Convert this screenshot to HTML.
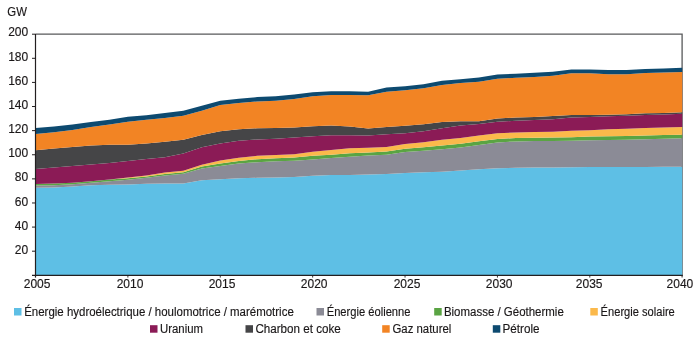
<!DOCTYPE html>
<html><head><meta charset="utf-8"><style>
html,body{margin:0;padding:0;background:#fff;}
body{width:696px;height:348px;overflow:hidden;}
svg{display:block;will-change:transform;}
text{font-family:"Liberation Sans",sans-serif;font-size:12px;fill:#1a1718;stroke:#1a1718;stroke-width:0.15px;}
</style></head><body>
<svg width="696" height="348" viewBox="0 0 696 348">
<path d="M35.5 34.2H682.1V277.5" fill="none" stroke="#58595b" stroke-width="1.3"/>
<polygon fill="#5ebfe5" points="35.50,187.70 53.98,187.40 72.45,186.40 90.93,185.30 109.41,184.80 127.89,184.40 146.36,183.70 164.84,183.50 183.32,183.40 201.79,180.30 220.27,179.20 238.75,178.30 257.23,177.80 275.70,177.50 294.18,177.00 312.66,175.80 331.13,175.00 349.61,175.00 368.09,174.50 386.57,174.10 405.04,173.00 423.52,172.30 442.00,171.70 460.47,170.50 478.95,169.20 497.43,168.30 515.91,167.80 534.38,167.50 552.86,167.50 571.34,167.20 589.81,167.00 608.29,167.00 626.77,167.00 645.25,166.90 663.72,166.80 682.20,166.70 682.20,275.00 663.72,275.00 645.25,275.00 626.77,275.00 608.29,275.00 589.81,275.00 571.34,275.00 552.86,275.00 534.38,275.00 515.91,275.00 497.43,275.00 478.95,275.00 460.47,275.00 442.00,275.00 423.52,275.00 405.04,275.00 386.57,275.00 368.09,275.00 349.61,275.00 331.13,275.00 312.66,275.00 294.18,275.00 275.70,275.00 257.23,275.00 238.75,275.00 220.27,275.00 201.79,275.00 183.32,275.00 164.84,275.00 146.36,275.00 127.89,275.00 109.41,275.00 90.93,275.00 72.45,275.00 53.98,275.00 35.50,275.00"/>
<polygon fill="#8b8b96" points="35.50,185.60 53.98,185.30 72.45,184.20 90.93,182.80 109.41,181.20 127.89,179.70 146.36,177.70 164.84,175.60 183.32,173.70 201.79,168.50 220.27,165.90 238.75,163.50 257.23,162.20 275.70,161.30 294.18,160.80 312.66,159.50 331.13,158.00 349.61,156.70 368.09,155.50 386.57,154.70 405.04,152.00 423.52,150.80 442.00,149.20 460.47,147.50 478.95,145.10 497.43,142.40 515.91,141.40 534.38,141.00 552.86,140.90 571.34,140.70 589.81,140.20 608.29,140.00 626.77,139.70 645.25,139.30 663.72,138.80 682.20,138.30 682.20,166.70 663.72,166.80 645.25,166.90 626.77,167.00 608.29,167.00 589.81,167.00 571.34,167.20 552.86,167.50 534.38,167.50 515.91,167.80 497.43,168.30 478.95,169.20 460.47,170.50 442.00,171.70 423.52,172.30 405.04,173.00 386.57,174.10 368.09,174.50 349.61,175.00 331.13,175.00 312.66,175.80 294.18,177.00 275.70,177.50 257.23,177.80 238.75,178.30 220.27,179.20 201.79,180.30 183.32,183.40 164.84,183.50 146.36,183.70 127.89,184.40 109.41,184.80 90.93,185.30 72.45,186.40 53.98,187.40 35.50,187.70"/>
<polygon fill="#5aa443" points="35.50,184.00 53.98,183.60 72.45,182.70 90.93,181.20 109.41,179.50 127.89,178.20 146.36,176.40 164.84,174.10 183.32,172.20 201.79,166.60 220.27,163.60 238.75,160.90 257.23,159.20 275.70,158.30 294.18,157.50 312.66,155.80 331.13,154.70 349.61,153.30 368.09,152.60 386.57,151.60 405.04,148.80 423.52,147.30 442.00,145.50 460.47,143.80 478.95,141.20 497.43,138.90 515.91,138.10 534.38,137.70 552.86,137.40 571.34,137.30 589.81,136.60 608.29,136.30 626.77,136.00 645.25,135.50 663.72,135.00 682.20,134.70 682.20,138.30 663.72,138.80 645.25,139.30 626.77,139.70 608.29,140.00 589.81,140.20 571.34,140.70 552.86,140.90 534.38,141.00 515.91,141.40 497.43,142.40 478.95,145.10 460.47,147.50 442.00,149.20 423.52,150.80 405.04,152.00 386.57,154.70 368.09,155.50 349.61,156.70 331.13,158.00 312.66,159.50 294.18,160.80 275.70,161.30 257.23,162.20 238.75,163.50 220.27,165.90 201.79,168.50 183.32,173.70 164.84,175.60 146.36,177.70 127.89,179.70 109.41,181.20 90.93,182.80 72.45,184.20 53.98,185.30 35.50,185.60"/>
<polygon fill="#fbb94b" points="35.50,184.00 53.98,183.60 72.45,182.70 90.93,181.20 109.41,179.50 127.89,177.60 146.36,175.50 164.84,172.60 183.32,170.80 201.79,164.80 220.27,160.60 238.75,157.80 257.23,155.80 275.70,155.00 294.18,154.20 312.66,151.70 331.13,150.00 349.61,148.30 368.09,147.80 386.57,147.00 405.04,144.10 423.52,142.20 442.00,139.70 460.47,138.00 478.95,135.40 497.43,133.30 515.91,132.50 534.38,132.00 552.86,131.70 571.34,130.80 589.81,130.20 608.29,129.20 626.77,128.70 645.25,128.00 663.72,127.50 682.20,127.00 682.20,134.70 663.72,135.00 645.25,135.50 626.77,136.00 608.29,136.30 589.81,136.60 571.34,137.30 552.86,137.40 534.38,137.70 515.91,138.10 497.43,138.90 478.95,141.20 460.47,143.80 442.00,145.50 423.52,147.30 405.04,148.80 386.57,151.60 368.09,152.60 349.61,153.30 331.13,154.70 312.66,155.80 294.18,157.50 275.70,158.30 257.23,159.20 238.75,160.90 220.27,163.60 201.79,166.60 183.32,172.20 164.84,174.10 146.36,176.40 127.89,178.20 109.41,179.50 90.93,181.20 72.45,182.70 53.98,183.60 35.50,184.00"/>
<polygon fill="#8b1b56" points="35.50,169.10 53.98,167.40 72.45,165.90 90.93,164.40 109.41,163.00 127.89,161.00 146.36,159.00 164.84,157.30 183.32,153.60 201.79,147.20 220.27,143.40 238.75,140.80 257.23,139.40 275.70,138.70 294.18,137.50 312.66,136.30 331.13,135.20 349.61,135.20 368.09,135.60 386.57,134.20 405.04,133.30 423.52,131.20 442.00,128.20 460.47,125.60 478.95,124.00 497.43,121.70 515.91,120.80 534.38,120.00 552.86,119.20 571.34,117.50 589.81,116.90 608.29,116.30 626.77,115.80 645.25,115.00 663.72,114.50 682.20,113.70 682.20,127.00 663.72,127.50 645.25,128.00 626.77,128.70 608.29,129.20 589.81,130.20 571.34,130.80 552.86,131.70 534.38,132.00 515.91,132.50 497.43,133.30 478.95,135.40 460.47,138.00 442.00,139.70 423.52,142.20 405.04,144.10 386.57,147.00 368.09,147.80 349.61,148.30 331.13,150.00 312.66,151.70 294.18,154.20 275.70,155.00 257.23,155.80 238.75,157.80 220.27,160.60 201.79,164.80 183.32,170.80 164.84,172.60 146.36,175.50 127.89,177.60 109.41,179.50 90.93,181.20 72.45,182.70 53.98,183.60 35.50,184.00"/>
<polygon fill="#454547" points="35.50,150.30 53.98,148.50 72.45,147.00 90.93,145.40 109.41,144.70 127.89,144.80 146.36,143.50 164.84,141.80 183.32,139.80 201.79,135.10 220.27,131.20 238.75,129.20 257.23,128.30 275.70,128.00 294.18,127.50 312.66,126.30 331.13,125.60 349.61,126.60 368.09,128.50 386.57,127.00 405.04,125.80 423.52,124.20 442.00,122.00 460.47,121.30 478.95,121.20 497.43,118.40 515.91,117.60 534.38,116.90 552.86,116.10 571.34,114.90 589.81,115.00 608.29,114.70 626.77,114.20 645.25,113.30 663.72,113.00 682.20,112.20 682.20,113.70 663.72,114.50 645.25,115.00 626.77,115.80 608.29,116.30 589.81,116.90 571.34,117.50 552.86,119.20 534.38,120.00 515.91,120.80 497.43,121.70 478.95,124.00 460.47,125.60 442.00,128.20 423.52,131.20 405.04,133.30 386.57,134.20 368.09,135.60 349.61,135.20 331.13,135.20 312.66,136.30 294.18,137.50 275.70,138.70 257.23,139.40 238.75,140.80 220.27,143.40 201.79,147.20 183.32,153.60 164.84,157.30 146.36,159.00 127.89,161.00 109.41,163.00 90.93,164.40 72.45,165.90 53.98,167.40 35.50,169.10"/>
<polygon fill="#f28424" points="35.50,133.90 53.98,132.20 72.45,130.00 90.93,127.00 109.41,124.50 127.89,121.70 146.36,119.80 164.84,118.00 183.32,115.80 201.79,110.80 220.27,105.00 238.75,103.00 257.23,101.50 275.70,100.80 294.18,99.00 312.66,96.30 331.13,95.00 349.61,95.00 368.09,95.30 386.57,91.70 405.04,90.30 423.52,88.30 442.00,85.00 460.47,83.00 478.95,81.70 497.43,78.70 515.91,77.80 534.38,77.00 552.86,75.70 571.34,73.30 589.81,73.20 608.29,74.20 626.77,74.20 645.25,73.00 663.72,72.50 682.20,71.90 682.20,112.20 663.72,113.00 645.25,113.30 626.77,114.20 608.29,114.70 589.81,115.00 571.34,114.90 552.86,116.10 534.38,116.90 515.91,117.60 497.43,118.40 478.95,121.20 460.47,121.30 442.00,122.00 423.52,124.20 405.04,125.80 386.57,127.00 368.09,128.50 349.61,126.60 331.13,125.60 312.66,126.30 294.18,127.50 275.70,128.00 257.23,128.30 238.75,129.20 220.27,131.20 201.79,135.10 183.32,139.80 164.84,141.80 146.36,143.50 127.89,144.80 109.41,144.70 90.93,145.40 72.45,147.00 53.98,148.50 35.50,150.30"/>
<polygon fill="#0d4a70" points="35.50,128.00 53.98,126.50 72.45,124.60 90.93,121.90 109.41,119.70 127.89,116.70 146.36,115.20 164.84,113.00 183.32,110.80 201.79,105.80 220.27,100.80 238.75,98.70 257.23,97.10 275.70,96.30 294.18,94.50 312.66,92.20 331.13,91.30 349.61,91.30 368.09,91.70 386.57,87.50 405.04,86.30 423.52,84.20 442.00,80.80 460.47,79.20 478.95,77.60 497.43,74.50 515.91,73.70 534.38,72.80 552.86,71.70 571.34,69.50 589.81,69.60 608.29,70.10 626.77,70.10 645.25,69.00 663.72,68.50 682.20,67.80 682.20,71.90 663.72,72.50 645.25,73.00 626.77,74.20 608.29,74.20 589.81,73.20 571.34,73.30 552.86,75.70 534.38,77.00 515.91,77.80 497.43,78.70 478.95,81.70 460.47,83.00 442.00,85.00 423.52,88.30 405.04,90.30 386.57,91.70 368.09,95.30 349.61,95.00 331.13,95.00 312.66,96.30 294.18,99.00 275.70,100.80 257.23,101.50 238.75,103.00 220.27,105.00 201.79,110.80 183.32,115.80 164.84,118.00 146.36,119.80 127.89,121.70 109.41,124.50 90.93,127.00 72.45,130.00 53.98,132.20 35.50,133.90"/>
<line x1="35.5" y1="34" x2="35.5" y2="277.6" stroke="#231f20" stroke-width="1.2"/>
<line x1="32" y1="275.35" x2="682.8" y2="275.35" stroke="#231f20" stroke-width="1.3"/>
<line x1="127.89" y1="275.5" x2="127.89" y2="277.6" stroke="#231f20" stroke-width="0.9"/><line x1="220.27" y1="275.5" x2="220.27" y2="277.6" stroke="#231f20" stroke-width="0.9"/><line x1="312.66" y1="275.5" x2="312.66" y2="277.6" stroke="#231f20" stroke-width="0.9"/><line x1="405.04" y1="275.5" x2="405.04" y2="277.6" stroke="#231f20" stroke-width="0.9"/><line x1="497.43" y1="275.5" x2="497.43" y2="277.6" stroke="#231f20" stroke-width="0.9"/><line x1="589.81" y1="275.5" x2="589.81" y2="277.6" stroke="#231f20" stroke-width="0.9"/>
<line x1="32" y1="251.19" x2="35.5" y2="251.19" stroke="#231f20" stroke-width="1"/><text x="28.2" y="253.79" text-anchor="end">20</text><line x1="32" y1="227.08" x2="35.5" y2="227.08" stroke="#231f20" stroke-width="1"/><text x="28.2" y="229.68" text-anchor="end">40</text><line x1="32" y1="202.97" x2="35.5" y2="202.97" stroke="#231f20" stroke-width="1"/><text x="28.2" y="205.57" text-anchor="end">60</text><line x1="32" y1="178.86" x2="35.5" y2="178.86" stroke="#231f20" stroke-width="1"/><text x="28.2" y="181.46" text-anchor="end">80</text><line x1="32" y1="154.75" x2="35.5" y2="154.75" stroke="#231f20" stroke-width="1"/><text x="28.2" y="157.35" text-anchor="end">100</text><line x1="32" y1="130.64" x2="35.5" y2="130.64" stroke="#231f20" stroke-width="1"/><text x="28.2" y="133.24" text-anchor="end">120</text><line x1="32" y1="106.53" x2="35.5" y2="106.53" stroke="#231f20" stroke-width="1"/><text x="28.2" y="109.13" text-anchor="end">140</text><line x1="32" y1="82.42" x2="35.5" y2="82.42" stroke="#231f20" stroke-width="1"/><text x="28.2" y="85.02" text-anchor="end">160</text><line x1="32" y1="58.31" x2="35.5" y2="58.31" stroke="#231f20" stroke-width="1"/><text x="28.2" y="60.91" text-anchor="end">180</text><line x1="32" y1="34.20" x2="35.5" y2="34.20" stroke="#231f20" stroke-width="1"/><text x="28.2" y="36.00" text-anchor="end">200</text>
<text x="37.10" y="287.8" text-anchor="middle">2005</text><text x="130.00" y="287.8" text-anchor="middle">2010</text><text x="222.00" y="287.8" text-anchor="middle">2015</text><text x="314.20" y="287.8" text-anchor="middle">2020</text><text x="407.00" y="287.8" text-anchor="middle">2025</text><text x="499.20" y="287.8" text-anchor="middle">2030</text><text x="589.20" y="287.8" text-anchor="middle">2035</text><text x="679.90" y="287.8" text-anchor="middle">2040</text>
<text x="7.3" y="15.9" textLength="19.6" lengthAdjust="spacingAndGlyphs">GW</text>
<rect x="14.0" y="308.0" width="7.5" height="7.5" fill="#5ebfe5"/><text x="24.2" y="315.5" textLength="269.6" lengthAdjust="spacingAndGlyphs">Énergie hydroélectrique / houlomotrice / marémotrice</text><rect x="316.5" y="308.0" width="7.5" height="7.5" fill="#8b8b96"/><text x="326.7" y="315.5" textLength="83.8" lengthAdjust="spacingAndGlyphs">Énergie éolienne</text><rect x="434.2" y="308.0" width="7.5" height="7.5" fill="#5aa443"/><text x="443.9" y="315.5" textLength="119.9" lengthAdjust="spacingAndGlyphs">Biomasse / Géothermie</text><rect x="590.3" y="308.0" width="7.5" height="7.5" fill="#fbb94b"/><text x="600.6" y="315.5" textLength="74.2" lengthAdjust="spacingAndGlyphs">Énergie solaire</text><rect x="150.0" y="325.2" width="7.5" height="7.5" fill="#8b1b56"/><text x="160.0" y="332.7" textLength="43.0" lengthAdjust="spacingAndGlyphs">Uranium</text><rect x="245.5" y="325.2" width="7.5" height="7.5" fill="#454547"/><text x="255.4" y="332.7" textLength="85.4" lengthAdjust="spacingAndGlyphs">Charbon et coke</text><rect x="382.2" y="325.2" width="7.5" height="7.5" fill="#f28424"/><text x="392.5" y="332.7" textLength="58.8" lengthAdjust="spacingAndGlyphs">Gaz naturel</text><rect x="492.8" y="325.2" width="7.5" height="7.5" fill="#0d4a70"/><text x="502.5" y="332.7" textLength="37.0" lengthAdjust="spacingAndGlyphs">Pétrole</text>
</svg>
</body></html>
